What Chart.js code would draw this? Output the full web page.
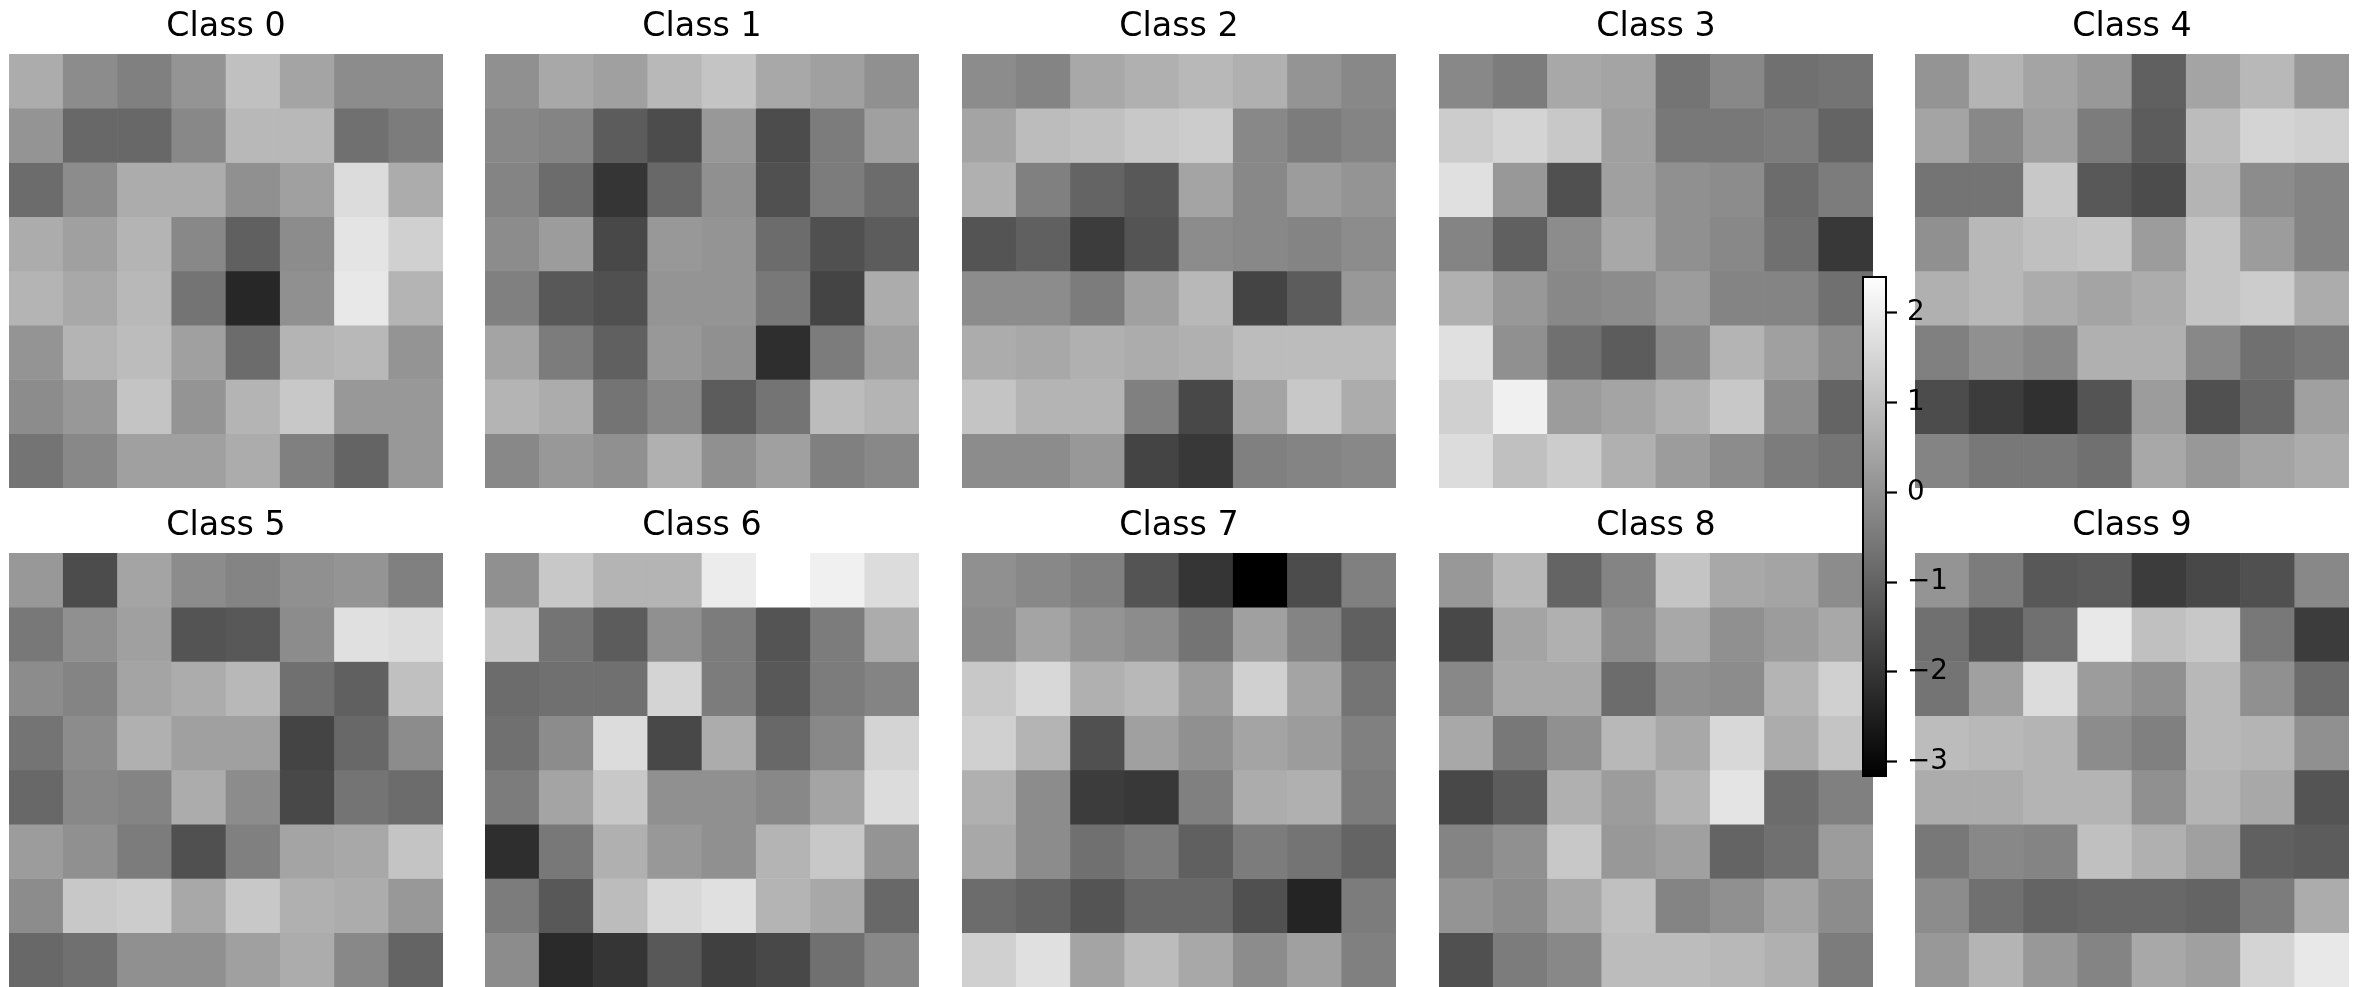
<!DOCTYPE html>
<html>
<head>
<meta charset="utf-8">
<script src="https://cdn.jsdelivr.net/npm/chart.js@4/dist/chart.umd.min.js"></script>
<style>
html,body{margin:0;padding:0;background:#fff;overflow:hidden;width:2361px;height:987px;}
canvas{position:absolute;}
</style>
</head>
<body>
<script>
// ---- colour scale range (colorbar) ----
const VMIN = -3.17;
const VMAX = 2.41;
const cbarTicks = [-3, -2, -1, 0, 1, 2];

// ---- categories ----
const classNames = ['Class 0','Class 1','Class 2','Class 3','Class 4','Class 5','Class 6','Class 7','Class 8','Class 9'];
const colLabels = ['0','1','2','3','4','5','6','7'];

// ---- values (8 rows x 8 columns per class, row 0 at top) ----
const class0 = [
 [0.59,-0.11,-0.37,0.07,1.03,0.42,-0.11,-0.11],
 [0.07,-0.90,-0.90,-0.20,0.85,0.85,-0.72,-0.46],
 [-0.81,-0.11,0.59,0.59,-0.02,0.33,1.64,0.59],
 [0.59,0.33,0.77,-0.20,-1.07,-0.11,1.82,1.38],
 [0.77,0.50,0.85,-0.64,-2.32,-0.02,1.91,0.77],
 [0.07,0.77,0.94,0.33,-0.81,0.77,0.85,0.07],
 [-0.11,0.15,1.12,0.07,0.77,1.20,0.15,0.15],
 [-0.64,-0.20,0.33,0.33,0.59,-0.37,-0.99,0.15]
];
const class1 = [
 [-0.02,0.50,0.33,0.85,1.12,0.50,0.33,-0.02],
 [-0.20,-0.28,-1.16,-1.51,0.15,-1.51,-0.46,0.33],
 [-0.28,-0.81,-2.01,-0.90,-0.02,-1.42,-0.46,-0.81],
 [-0.11,0.24,-1.60,0.15,0.07,-0.81,-1.42,-1.16],
 [-0.37,-1.25,-1.42,0.07,0.07,-0.55,-1.69,0.59],
 [0.42,-0.46,-1.07,0.15,-0.02,-2.17,-0.46,0.33],
 [0.77,0.59,-0.64,-0.20,-1.16,-0.64,0.94,0.77],
 [-0.20,0.15,-0.02,0.68,-0.02,0.33,-0.37,-0.20]
];
const class2 = [
 [-0.11,-0.28,0.50,0.68,0.85,0.68,0.07,-0.20],
 [0.42,0.94,1.03,1.20,1.29,-0.20,-0.46,-0.28],
 [0.68,-0.37,-0.99,-1.25,0.42,-0.20,0.24,0.07],
 [-1.34,-1.07,-1.86,-1.34,-0.11,-0.20,-0.28,-0.11],
 [-0.11,-0.11,-0.46,0.33,0.85,-1.69,-1.16,0.15],
 [0.59,0.50,0.68,0.59,0.68,0.94,0.94,0.94],
 [1.12,0.77,0.77,-0.37,-1.60,0.42,1.20,0.59],
 [-0.11,-0.11,0.15,-1.69,-1.95,-0.37,-0.28,-0.20]
];
const class3 = [
 [-0.20,-0.46,0.50,0.42,-0.64,-0.20,-0.72,-0.64],
 [1.29,1.47,1.20,0.33,-0.55,-0.55,-0.46,-0.99],
 [1.73,0.15,-1.42,0.33,-0.02,-0.11,-0.81,-0.46],
 [-0.28,-1.07,-0.11,0.50,-0.02,-0.20,-0.72,-1.95],
 [0.68,0.15,-0.20,-0.11,0.24,-0.28,-0.28,-0.72],
 [1.73,-0.02,-0.72,-1.16,-0.20,0.77,0.33,-0.11],
 [1.38,2.08,0.24,0.42,0.68,1.20,-0.11,-0.99],
 [1.64,1.03,1.29,0.68,0.24,-0.11,-0.46,-0.64]
];
const class4 = [
 [0.07,0.77,0.42,0.15,-1.07,0.42,0.85,0.15],
 [0.42,-0.20,0.33,-0.46,-1.16,0.94,1.47,1.38],
 [-0.64,-0.64,1.20,-1.25,-1.51,0.77,-0.11,-0.28],
 [-0.02,0.85,1.03,1.12,0.24,1.12,0.24,-0.28],
 [0.68,0.85,0.59,0.42,0.59,1.12,1.29,0.59],
 [-0.37,-0.02,-0.20,0.68,0.68,-0.20,-0.72,-0.55],
 [-1.51,-1.86,-2.12,-1.34,0.24,-1.42,-0.90,0.33],
 [-0.28,-0.55,-0.55,-0.72,0.50,0.15,0.42,0.59]
];
const class5 = [
 [0.15,-1.51,0.42,-0.11,-0.28,-0.02,0.07,-0.37],
 [-0.55,-0.02,0.33,-1.34,-1.25,-0.11,1.73,1.64],
 [-0.11,-0.28,0.42,0.59,0.85,-0.72,-1.07,1.03],
 [-0.64,-0.11,0.68,0.33,0.33,-1.69,-0.90,-0.11],
 [-0.90,-0.20,-0.28,0.59,-0.11,-1.60,-0.64,-0.81],
 [0.24,-0.02,-0.46,-1.42,-0.37,0.42,0.50,1.12],
 [-0.11,1.20,1.29,0.50,1.20,0.68,0.59,0.15],
 [-0.90,-0.72,-0.02,-0.02,0.33,0.59,-0.20,-0.99]
];
const class6 = [
 [-0.02,1.20,0.77,0.77,1.99,2.41,2.08,1.64],
 [1.20,-0.64,-1.16,-0.02,-0.46,-1.34,-0.46,0.59],
 [-0.81,-0.72,-0.72,1.47,-0.46,-1.25,-0.46,-0.28],
 [-0.72,-0.11,1.64,-1.60,0.59,-0.90,-0.20,1.47],
 [-0.46,0.42,1.20,-0.02,-0.02,-0.20,0.42,1.64],
 [-2.17,-0.55,0.68,0.15,-0.02,0.77,1.20,0.07],
 [-0.46,-1.25,0.94,1.55,1.73,0.77,0.50,-0.90],
 [-0.11,-2.26,-2.01,-1.25,-1.77,-1.60,-0.72,-0.20]
];
const class7 = [
 [-0.02,-0.20,-0.37,-1.34,-2.01,-3.17,-1.51,-0.37],
 [-0.11,0.42,0.07,-0.11,-0.64,0.33,-0.28,-1.07],
 [1.20,1.55,0.68,0.85,0.24,1.38,0.42,-0.64],
 [1.38,0.77,-1.42,0.33,-0.02,0.42,0.24,-0.37],
 [0.68,-0.11,-1.86,-1.95,-0.37,0.59,0.68,-0.46],
 [0.50,-0.11,-0.72,-0.46,-1.07,-0.46,-0.64,-0.99],
 [-0.81,-0.99,-1.34,-0.90,-0.90,-1.42,-2.39,-0.46],
 [1.38,1.73,0.42,0.94,0.50,-0.11,0.33,-0.37]
];
const class8 = [
 [0.15,0.85,-0.99,-0.28,1.12,0.50,0.42,-0.11],
 [-1.60,0.42,0.68,-0.11,0.50,-0.02,0.24,0.50],
 [-0.20,0.50,0.50,-0.81,-0.02,-0.11,0.77,1.38],
 [0.50,-0.55,-0.02,0.85,0.50,1.55,0.59,1.12],
 [-1.60,-1.16,0.68,0.24,0.77,1.82,-0.81,-0.37],
 [-0.28,-0.02,1.20,0.15,0.33,-0.99,-0.72,0.24],
 [0.07,-0.11,0.50,1.03,-0.28,-0.02,0.42,-0.11],
 [-1.42,-0.46,-0.20,0.94,0.94,0.85,0.68,-0.46]
];
const class9 = [
 [0.07,-0.46,-1.25,-1.16,-1.86,-1.60,-1.42,-0.20],
 [-0.72,-1.34,-0.72,1.91,1.03,1.20,-0.55,-1.86],
 [-0.64,0.33,1.64,0.24,-0.02,0.85,-0.02,-0.81],
 [0.94,0.85,0.77,-0.11,-0.37,0.85,0.77,-0.02],
 [0.59,0.59,0.77,0.77,-0.02,0.77,0.50,-1.34],
 [-0.55,-0.20,-0.28,1.03,0.68,0.33,-1.07,-1.16],
 [-0.11,-0.72,-0.99,-0.90,-0.90,-0.99,-0.46,0.59],
 [0.15,0.77,0.15,-0.28,0.50,0.33,1.47,1.91]
];
const classes = [class0,class1,class2,class3,class4,class5,class6,class7,class8,class9];

// ---- layout (pixels) ----
const panelLefts = [9, 485, 962, 1439, 1915];
const panelTops = [0, 499];
const panelW = 434, titleH = 54, panelH = 434 + titleH;

Chart.defaults.font.family = 'DejaVu Sans';

function grayOf(v) {
  let t = (v - VMIN) / (VMAX - VMIN);
  t = Math.max(0, Math.min(1, t));
  const g = Math.round(t * 255);
  return 'rgb(' + g + ',' + g + ',' + g + ')';
}

function addCanvas(left, top, w, h, z) {
  const c = document.createElement('canvas');
  c.width = w; c.height = h;
  c.style.left = left + 'px'; c.style.top = top + 'px';
  c.style.width = w + 'px'; c.style.height = h + 'px';
  c.style.zIndex = z;
  document.body.appendChild(c);
  return c;
}

classes.forEach((rows, k) => {
  const cv = addCanvas(panelLefts[k % 5], panelTops[Math.floor(k / 5)], panelW, panelH, 1);
  new Chart(cv, {
    type: 'bar',
    data: {
      labels: colLabels,
      datasets: rows.map((row, r) => ({
        label: 'row ' + r,
        data: row.map(() => 1),
        backgroundColor: row.map(grayOf),
        borderWidth: 0,
        barPercentage: 1,
        categoryPercentage: 1
      }))
    },
    options: {
      responsive: false,
      animation: false,
      events: [],
      layout: { padding: 0 },
      plugins: {
        legend: { display: false },
        tooltip: { enabled: false },
        title: {
          display: true,
          text: classNames[k],
          color: '#000',
          font: { family: 'DejaVu Sans', size: 33.3, weight: 'normal', lineHeight: 1.2 },
          padding: { top: 7.4, bottom: 6.6 }
        }
      },
      scales: {
        x: { display: false, stacked: true },
        y: { display: false, stacked: true, min: 0, max: 8, reverse: true }
      }
    }
  });
});

// ---- colorbar ----
const cbLeft = 1862, cbTop = 276, cbW = 25, cbH = 501, axisW = 80, padV = 40;
const cbCanvas = addCanvas(cbLeft, cbTop - padV, cbW + axisW, cbH + 2 * padV, 5);
new Chart(cbCanvas, {
  type: 'bar',
  data: {
    labels: ['colorbar'],
    datasets: [{
      data: [[VMIN, VMAX]],
      backgroundColor: (context) => {
        const chart = context.chart;
        if (!chart.chartArea) return '#888';
        const y = chart.scales.y;
        const g = chart.ctx.createLinearGradient(0, y.getPixelForValue(VMIN), 0, y.getPixelForValue(VMAX));
        g.addColorStop(0, '#000');
        g.addColorStop(1, '#fff');
        return g;
      },
      borderColor: '#000',
      borderWidth: 2,
      borderSkipped: false,
      inflateAmount: 0,
      barPercentage: 1,
      categoryPercentage: 1
    }]
  },
  options: {
    responsive: false,
    animation: false,
    events: [],
    layout: { padding: { top: padV, bottom: padV, left: 0, right: 0 } },
    plugins: { legend: { display: false }, tooltip: { enabled: false } },
    scales: {
      x: { display: false },
      y: {
        position: 'right',
        min: VMIN,
        max: VMAX,
        afterFit: (s) => { s.width = axisW; s.paddingTop = 0; s.paddingBottom = 0; },
        afterBuildTicks: (s) => { s.ticks = cbarTicks.map(v => ({ value: v })); },
        border: { display: false },
        grid: { display: true, drawOnChartArea: false, drawTicks: true, tickLength: 10, tickWidth: 2.2, tickColor: '#000' },
        ticks: {
          padding: 10,
          color: '#000',
          font: { family: 'DejaVu Sans', size: 27.8 },
          callback: (v) => (v < 0 ? '\u2212' + Math.abs(v) : String(v))
        }
      }
    }
  }
});
</script>
</body>
</html>
